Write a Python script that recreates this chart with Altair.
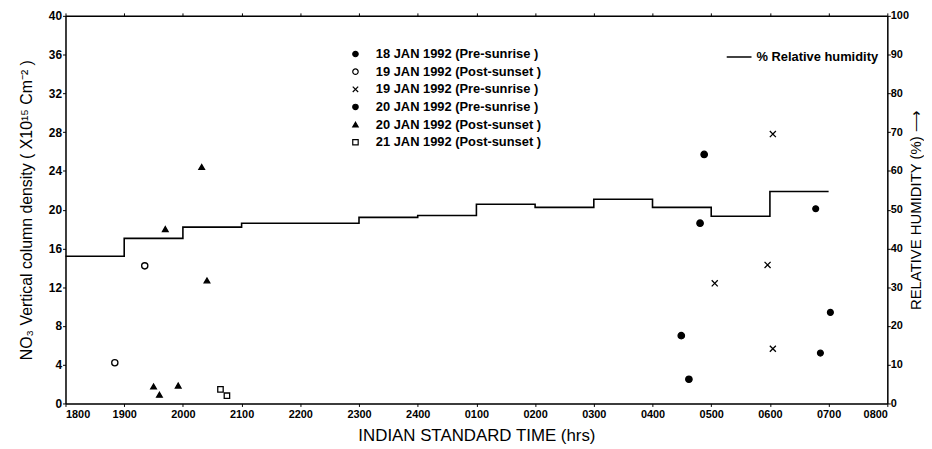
import altair as alt
import pandas as pd

# x = hours after 1800 IST
tick_labels = ["1800", "1900", "2000", "2100", "2200", "2300", "2400", "0100",
               "0200", "0300", "0400", "0500", "0600", "0700", "0800"]

series_names = ["18 JAN 1992  (Pre-sunrise )", "19 JAN 1992  (Post-sunset )",
                "19 JAN 1992  (Pre-sunrise )", "20 JAN 1992  (Pre-sunrise )",
                "20 JAN 1992  (Post-sunset )", "21 JAN 1992  (Post-sunset )"]

jan18_pre_t = [10.49, 10.62, 10.81, 10.88]
jan18_pre_v = [7.0, 2.5, 18.6, 25.7]
jan19_post_t = [0.84, 1.35]
jan19_post_v = [4.2, 14.2]
jan19_pre_t = [11.06, 11.96, 12.05, 12.05]
jan19_pre_v = [12.4, 14.3, 27.8, 5.65]
jan20_pre_t = [12.78, 12.86, 13.03]
jan20_pre_v = [20.1, 5.2, 9.4]
jan20_post_t = [1.50, 1.60, 1.70, 1.92, 2.32, 2.41]
jan20_post_v = [1.75, 0.9, 18.0, 1.85, 24.4, 12.7]
jan21_post_t = [2.64, 2.75]
jan21_post_v = [1.45, 0.8]

rh_t = [0, 1, 2, 3, 4, 5, 6, 7, 8, 9, 10, 11, 12, 13]
rh_v = [38.0, 42.6, 45.5, 46.5, 46.5, 48.0, 48.5, 51.4, 50.6, 52.7, 50.6, 48.3, 54.7, 54.7]

rows = []
for name, ts, vs in zip(series_names,
                        [jan18_pre_t, jan19_post_t, jan19_pre_t, jan20_pre_t, jan20_post_t, jan21_post_t],
                        [jan18_pre_v, jan19_post_v, jan19_pre_v, jan20_pre_v, jan20_post_v, jan21_post_v]):
    for t, v in zip(ts, vs):
        rows.append({"t": t, "v": v, "series": name})
pts = pd.DataFrame(rows)
rh = pd.DataFrame({"t": rh_t, "rh": rh_v, "label": "% Relative humidity"})

FONT = "Liberation Sans"
xcross = "M-1,-1L1,1M1,-1L-1,1"
shapes = ["circle", "circle", xcross, "circle", "triangle-up", "square"]
fills = ["black", "white", "black", "black", "black", "white"]
strokes = ["black"] * 6

label_expr = "[" + ",".join("'%s'" % s for s in tick_labels) + "][datum.value]"

leg = alt.Legend(title=None, orient="none", legendX=286, legendY=32,
                 labelFont=FONT, labelFontSize=13, labelFontWeight="bold", labelLimit=400,
                 labelColor="black", symbolSize=30, symbolStrokeWidth=1.2,
                 rowPadding=3.8, labelOffset=14)

xscale = alt.Scale(domain=[0, 14], nice=False)

points = alt.Chart(pts).mark_point(filled=True, strokeWidth=1.3, opacity=1).encode(
    x=alt.X("t:Q", scale=xscale,
            axis=alt.Axis(values=list(range(15)), labelExpr=label_expr,
                          title="INDIAN  STANDARD  TIME  (hrs)",
                          grid=False, tickColor="black", domainColor="black", tickSize=3,
                          labelPadding=2,
                          labelFont=FONT, labelFontSize=11, labelFontWeight="bold", labelColor="black",
                          titleFont=FONT, titleFontSize=17, titleFontWeight="normal", titleColor="black",
                          titlePadding=8, domainWidth=1.5)),
    y=alt.Y("v:Q", scale=alt.Scale(domain=[0, 40], nice=False),
            axis=alt.Axis(values=list(range(0, 41, 4)), grid=False, tickSize=3, labelPadding=1,
                          title="NO₃  Vertical  column  density  ( X10¹⁵ Cm⁻² )",
                          tickColor="black", domainColor="black", domainWidth=1.5,
                          labelFont=FONT, labelFontSize=12, labelFontWeight="bold", labelColor="black",
                          titleFont=FONT, titleFontSize=16, titleFontWeight="normal", titleColor="black",
                          titlePadding=14)),
    shape=alt.Shape("series:N", scale=alt.Scale(domain=series_names, range=shapes), legend=leg),
    fill=alt.Fill("series:N", scale=alt.Scale(domain=series_names, range=fills), legend=leg),
    stroke=alt.Stroke("series:N", scale=alt.Scale(domain=series_names, range=strokes), legend=leg),
    size=alt.Size("series:N", scale=alt.Scale(domain=series_names, range=[42, 30, 8, 42, 34, 18]), legend=None),
)

top_axis = alt.Chart(rh).mark_point(opacity=0).encode(
    x=alt.X("t:Q", scale=xscale,
            axis=alt.Axis(orient="top", values=list(range(15)), labels=False, title=None, grid=False,
                          tickSize=3, tickColor="black", domainColor="black", domainWidth=1.5)),
)

line = alt.Chart(rh).mark_line(interpolate="step-after", strokeWidth=1.6).encode(
    x=alt.X("t:Q", scale=xscale, axis=None),
    y=alt.Y("rh:Q", scale=alt.Scale(domain=[0, 100], nice=False),
            axis=alt.Axis(orient="right", values=list(range(0, 101, 10)), grid=False, tickSize=3,
                          labelPadding=0,
                          title="RELATIVE  HUMIDITY   (%)  ⟶", titleAngle=270, titleBaseline="top",
                          tickColor="black", domainColor="black", domainWidth=1.5,
                          labelFont=FONT, labelFontSize=11, labelFontWeight="bold", labelColor="black",
                          titleFont=FONT, titleFontSize=15, titleFontWeight="normal", titleColor="black",
                          titlePadding=0)),
    stroke=alt.Stroke("label:N", scale=alt.Scale(range=["black"]),
                      legend=alt.Legend(title=None, orient="none", legendX=666, legendY=28,
                                        symbolType="stroke", symbolSize=625, symbolStrokeWidth=1.5,
                                        labelFont=FONT, labelFontSize=13, labelFontWeight="bold",
                                        labelColor="black")),
)

chart = alt.layer(points, top_axis, line).resolve_scale(
    y="independent", shape="independent", fill="independent", stroke="independent"
).resolve_axis(x="independent").properties(
    width=924, height=441, autosize=alt.AutoSizeParams(type="fit", contains="padding"),
    padding={"left": 10, "right": 0, "top": 0, "bottom": 4}
).configure_view(stroke="black", strokeWidth=1.2).configure(background="white")

chart.save("out.html", embed_options={"renderer": "svg", "actions": False})
